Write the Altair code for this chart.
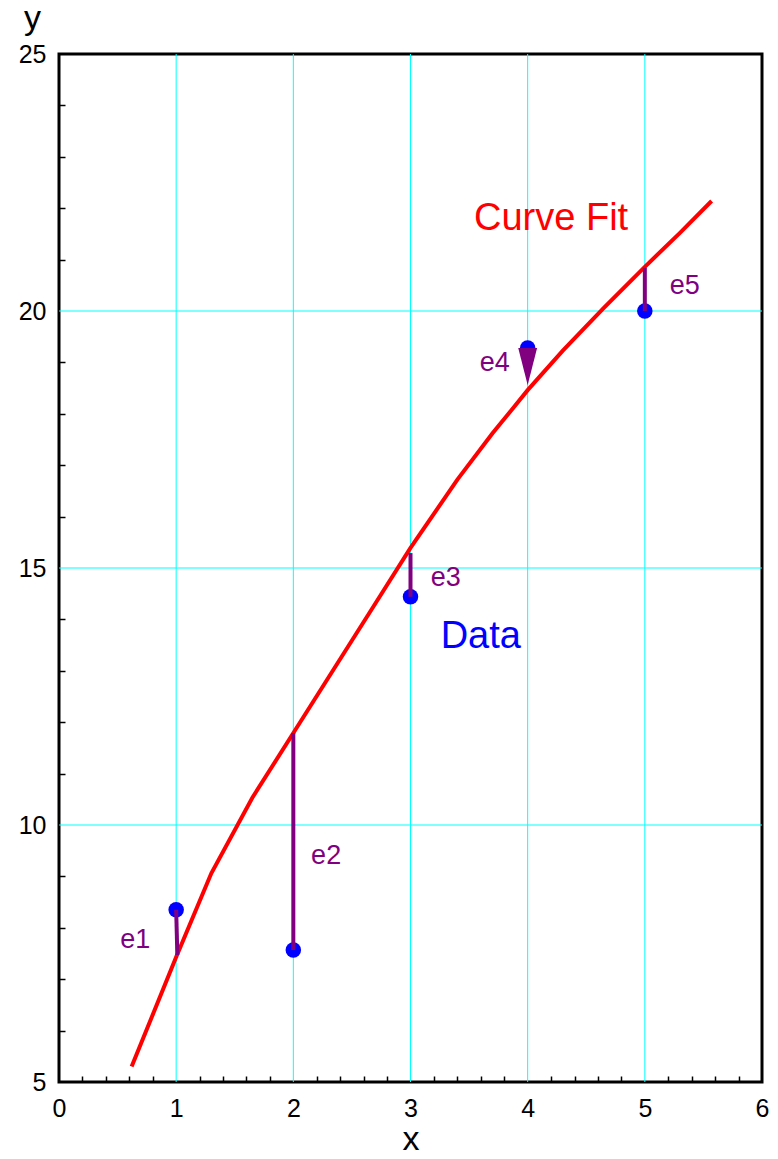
import altair as alt
import pandas as pd

# ---- data ----
curve_x = [0.62, 1.0, 1.3, 1.65, 2.0, 2.35, 2.7, 3.0, 3.4, 3.7, 4.0, 4.3, 4.65, 5.0, 5.3, 5.57]
curve_y = [5.30, 7.43, 9.06, 10.53, 11.79, 13.05, 14.31, 15.39, 16.72, 17.62, 18.46, 19.23, 20.06, 20.86, 21.52, 22.14]

data_x = [1, 2, 3, 4, 5]
data_y = [8.35, 7.57, 14.44, 19.28, 20.0]

err_names = ["e1", "e2", "e3", "e4", "e5"]
err_x_end = [1.01, 2, 3, 4, 5]
err_y_end = [7.47, 11.79, 15.29, 18.56, 20.84]
err_label_x = [0.65, 2.28, 3.30, 3.72, 5.34]
err_label_y = [7.76, 9.40, 14.80, 18.99, 20.49]

note_text = ["Curve Fit", "Data"]
note_x = [4.2, 3.6]
note_y = [21.79, 13.66]
note_color = ["#FF0000", "#0000FF"]

x_ticks = [0, 0.2, 0.4, 0.6, 0.8, 1, 1.2, 1.4, 1.6, 1.8, 2, 2.2, 2.4, 2.6, 2.8, 3,
           3.2, 3.4, 3.6, 3.8, 4, 4.2, 4.4, 4.6, 4.8, 5, 5.2, 5.4, 5.6, 5.8, 6]
y_ticks = list(range(5, 26))
x_grid = [1, 2, 3, 4, 5]
y_grid = [10, 15, 20]

FONT = "Liberation Sans"

curve_df = pd.DataFrame({"x": curve_x, "y": curve_y, "i": range(len(curve_x))})
pts_df = pd.DataFrame({"x": data_x, "y": data_y})
err_df = pd.DataFrame({"name": err_names, "x": data_x, "y": data_y,
                       "x2": err_x_end, "y2": err_y_end,
                       "lx": err_label_x, "ly": err_label_y})
note_df = pd.DataFrame({"t": note_text, "x": note_x, "y": note_y, "c": note_color})
xg_df = pd.DataFrame({"v": x_grid})
yg_df = pd.DataFrame({"v": y_grid})

xscale = alt.Scale(domain=[0, 6], nice=False, zero=False)
yscale = alt.Scale(domain=[5, 25], nice=False, zero=False)

xaxis = alt.Axis(
    values=x_ticks, tickCount=len(x_ticks), domain=False, grid=False,
    offset=-6, tickSize=6, tickWidth=1.5,
    tickColor={"condition": {"test": "datum.value % 1 === 0", "value": "transparent"}, "value": "black"},
    labelExpr="datum.value % 1 === 0 ? format(datum.value, 'd') : ''",
    labelFont=FONT, labelFontSize=25, labelColor="black", labelPadding=14,
    labelOverlap=False, labelFlush=False,
    title="x", titleFont=FONT, titleFontSize=34, titleFontWeight="normal", titleColor="black",
    titleY=73, titleBaseline="alphabetic",
)
yaxis = alt.Axis(
    values=y_ticks, tickCount=len(y_ticks), domain=False, grid=False,
    offset=-6, tickSize=6, tickWidth=1.5,
    tickColor={"condition": {"test": "datum.value % 5 === 0", "value": "transparent"}, "value": "black"},
    labelExpr="datum.value % 5 === 0 ? format(datum.value, 'd') : ''",
    labelFont=FONT, labelFontSize=25, labelColor="black", labelPadding=13,
    labelOverlap=False, labelFlush=False,
    title="y", titleFont=FONT, titleFontSize=34, titleFontWeight="normal", titleColor="black",
    titleAngle=0, titleAlign="center", titleBaseline="alphabetic", titleX=-33, titleY=-26,
)

xgrid = alt.Chart(xg_df).mark_rule(color="#00FFFF", strokeWidth=1).encode(
    x=alt.X("v:Q", scale=xscale, axis=xaxis)
)
ygrid = alt.Chart(yg_df).mark_rule(color="#00FFFF", strokeWidth=1).encode(
    y=alt.Y("v:Q", scale=yscale, axis=yaxis)
)

curve = alt.Chart(curve_df).mark_line(color="#FF0000", strokeWidth=4).encode(
    x=alt.X("x:Q", scale=xscale, axis=xaxis),
    y=alt.Y("y:Q", scale=yscale, axis=yaxis),
    order="i:O",
)

points = alt.Chart(pts_df).mark_circle(color="#0000FF", opacity=1, size=240).encode(
    x=alt.X("x:Q", scale=xscale), y=alt.Y("y:Q", scale=yscale)
)

errs = alt.Chart(err_df).transform_filter(alt.datum.name != "e4").mark_rule(
    color="#800080", strokeWidth=4).encode(
    x=alt.X("x:Q", scale=xscale), y=alt.Y("y:Q", scale=yscale),
    x2="x2:Q", y2="y2:Q",
)

# e4 is drawn as a downward wedge in the reference
wedge = alt.Chart(err_df).transform_filter(alt.datum.name == "e4").transform_calculate(
    ym="(datum.y + datum.y2) / 2").mark_point(
    shape="M-0.51,-1L0.51,-1L0,1Z", filled=True, color="#800080", opacity=1,
    size=1369, strokeWidth=0).encode(
    x=alt.X("x:Q", scale=xscale), y=alt.Y("ym:Q", scale=yscale),
)

err_labels = alt.Chart(err_df).mark_text(
    color="#800080", font=FONT, fontSize=27, align="center", baseline="middle").encode(
    x=alt.X("lx:Q", scale=xscale), y=alt.Y("ly:Q", scale=yscale), text="name:N"
)

notes = alt.Chart(note_df).mark_text(
    font=FONT, fontSize=38, align="center", baseline="middle").encode(
    x=alt.X("x:Q", scale=xscale), y=alt.Y("y:Q", scale=yscale), text="t:N",
    color=alt.Color("c:N", scale=None, legend=None),
)

chart = alt.layer(xgrid, ygrid, curve, points, errs, wedge, err_labels, notes).properties(
    width=703, height=1028,
    autosize=alt.AutoSizeParams(type="none"),
    padding={"left": 51, "top": 46, "right": 8, "bottom": 69},
    background="white",
).configure_view(stroke="black", strokeWidth=3)

chart.save("out.html", embed_options={"renderer": "svg", "actions": False})
